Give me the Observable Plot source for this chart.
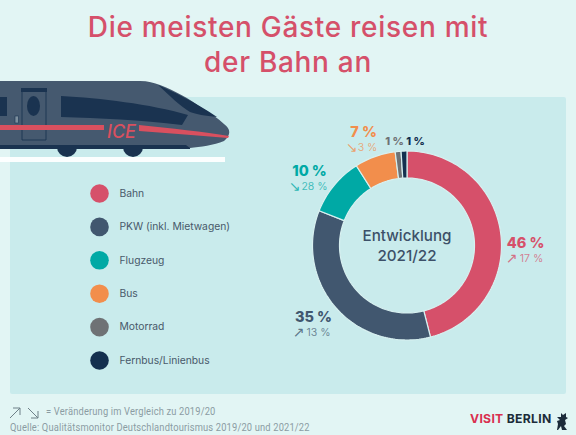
<!DOCTYPE html>
<html><head><meta charset="utf-8">
<script src="https://cdn.jsdelivr.net/npm/d3@7"></script>
<script src="https://cdn.jsdelivr.net/npm/@observablehq/plot@0.6"></script>
<style>
html,body{margin:0;padding:0;background:#e2f5f4;width:576px;height:435px;overflow:hidden;font-family:Inter,sans-serif}
#page{position:relative;width:576px;height:435px;overflow:hidden}
#panel{position:absolute;left:10px;top:97px;width:556px;height:297px;background:#c9ebec;border-radius:2px}
h1{position:absolute;left:0;top:10px;width:576px;margin:0;text-align:center;color:#d5506a;font-size:28px;line-height:35px;font-weight:550;letter-spacing:.7px}
#train{position:absolute;left:0;top:70px}
#deco{position:absolute;left:0;top:0}
#chart{position:absolute;left:0;top:0}
#note,#src{position:absolute;color:#8b9ca3;font-family:Roboto,sans-serif;font-size:10.2px;line-height:12px;white-space:nowrap;letter-spacing:.18px;transform:scaleX(.915);transform-origin:left center}
#note{left:46px;top:406px}#src{left:10px;top:422px}
#logo{position:absolute;left:470px;top:411px;font-size:12.2px;line-height:16px;font-weight:700;color:#1c2b3a;letter-spacing:.3px;white-space:nowrap}
#logo b{color:#d9304f;font-weight:700}
</style></head><body><div id="page">
<div id="panel"></div>
<h1>Die meisten Gäste reisen mit<br>der Bahn an</h1>
<svg id="train" width="240" height="100" viewBox="0 0 240 100">
<path d="M0 87H225V92H0Z" fill="#fff" opacity=".92"/>
<circle cx="67" cy="77" r="10" fill="#1a3350"/><circle cx="67" cy="74" r="4" fill="#8da0ad"/>
<circle cx="133" cy="77" r="10" fill="#1a3350"/><circle cx="133" cy="74" r="4" fill="#8da0ad"/>
<path d="M0 11H140C148 11 154 13 160 15C175 21 190 29 200 37C210 43 218 48 224 54C231 59 231 65 224 71C214 75 200 77 190 78H0Z" fill="#45596f"/>
<path d="M0 75H186L190 78V79H0Z" fill="#1a3350"/>
<path d="M158 15C172 21 195 32 217 47C205 46 196 44 190 42C180 36 170 26 158 15Z" fill="#1a3350"/>
<path d="M61 26C100 28 150 34 188 45L182 55C140 50 100 48 61 47Z" fill="#1a3350"/>
<path d="M0 27H7V46H0Z" fill="#1a3350"/>
<path d="M22 20H46V70H22Z" fill="none" stroke="#1a3350" stroke-width=".9"/>
<path d="M21 18H47V22H21Z" fill="#1a3350"/>
<ellipse cx="33.5" cy="36" rx="6.5" ry="10" fill="#1a3350"/>
<rect x="15" y="46" width="3.5" height="7" fill="#7d8f9d" stroke="#1a3350" stroke-width=".6"/>
<path d="M0 55H104V60H0Z" fill="#d9505f"/>
<path d="M139 55C170 58 205 62 229 66L228 68C200 66 170 63 139 61Z" fill="#d9505f"/>
<text x="107" y="68" font-size="18" font-style="italic" font-weight="500" fill="#d9505f" font-family="Inter">ICE</text>
</svg>
<svg id="deco" width="576" height="435" fill="none">
<g stroke="#6e8088" stroke-width="1">
<path d="M10 418L20 408M13 408H20V415"/>
<path d="M28 408L38 418M38 411V418H31"/>
</g>
<path d="M561 413L563 415L566 413L566 417L568 418L565 420L566 424L564 426L567 430H562L561 426L558 430H557L558 424L557 421L560 420L557 417L561 417Z" fill="#1c2b3a"/>
</svg>
<div id="chart"></div>
<div id="note">= Veränderung im Vergleich zu 2019/20</div>
<div id="src">Quelle: Qualitätsmonitor Deutschlandtourismus 2019/20 und 2021/22</div>
<div id="logo"><b>VISIT</b> BERLIN</div>
</div>
<script>
const categories = ["Bahn","PKW (inkl. Mietwagen)","Flugzeug","Bus","Motorrad","Fernbus/Linienbus"];
const shares = [46,35,10,7,1,1];
const changes = ["17 %","13 %","28 %","3 %","",""];
const arrows = ["↗","↗","↘","↘","",""];
const colors = ["#d6506a","#41576f","#00a9a5","#f28e4c","#6f7275","#14304f"];
const centerLabel = "Entwicklung\n2021/22";
const R = 94.5, r0 = 67.5, cx = 406.5, cy = 245;
const pie = d3.pie().sort(null).value(d=>d.share)(categories.map((c,i)=>({c,share:shares[i],change:changes[i],arrow:arrows[i]})));
const rows = [];
for (const a of pie) {
  const n = Math.max(4, Math.ceil((a.endAngle-a.startAngle)*40));
  const ang = t => a.startAngle + (a.endAngle-a.startAngle)*t;
  for (let i=0;i<=n;i++){const t=ang(i/n);rows.push({c:a.data.c,x:cx+R*Math.sin(t),y:cy-R*Math.cos(t)});}
  for (let i=n;i>=0;i--){const t=ang(i/n);rows.push({c:a.data.c,x:cx+r0*Math.sin(t),y:cy-r0*Math.cos(t)});}
}
// label placement: [share x, share y, arrow x, value x]
const place = [[525,243,511,531],[313,317,298,318],[309,171,294,314],[363,132,351,367],[394,141],[415,141]];
const lab = pie.map((a,i)=>({...a.data,x:place[i][0],y:place[i][1],ax:place[i][2],vx:place[i][3]}));
const sub = lab.filter(d=>d.change);
const legendY = d3.scalePoint().domain(categories).range([193,360]);
const plot = Plot.plot({
  width:576,height:435,margin:0,
  style:{background:"transparent",fontFamily:"Inter,sans-serif"},
  x:{domain:[0,576],range:[0,576],axis:null},
  y:{domain:[0,435],range:[0,435],axis:null},
  color:{domain:categories,range:colors},
  marks:[
    Plot.line(rows,{x:"x",y:"y",z:"c",fill:"c",stroke:"#d8f0f0",strokeWidth:1.2,curve:"linear-closed"}),
    Plot.dot(categories,{x:()=>99,y:d=>legendY(d),r:9.3,fill:d=>d}),
    Plot.text(categories,{x:()=>119,y:d=>legendY(d),text:d=>d,textAnchor:"start",fontSize:10.3,fill:"#48596a"}),
    Plot.text(lab,{x:"x",y:"y",text:d=>d.share+" %",fill:"c",fontSize:d=>d.share<2?11:14.5,fontWeight:800}),
    Plot.text(sub,{x:"vx",y:"y",dy:15.5,text:"change",fill:"c",fontSize:10.5,fillOpacity:.7}),
    Plot.text(sub,{x:"ax",y:"y",dy:15,text:"arrow",fill:"c",fontSize:14,fontFamily:"DejaVu Sans",fillOpacity:.8}),
    Plot.text([centerLabel],{x:()=>cx,y:()=>cy-1,text:d=>d,fontSize:15.2,fontWeight:500,lineHeight:1.33,fill:"#3c5068"})
  ]
});
document.getElementById("chart").append(plot);
</script></body></html>
